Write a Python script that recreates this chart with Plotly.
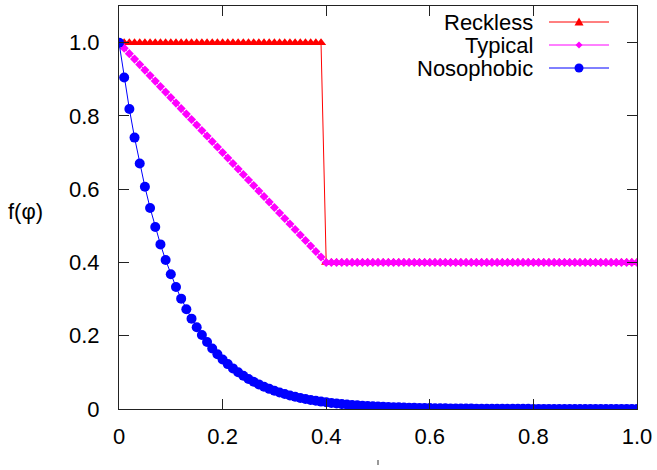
import plotly.graph_objects as go

phi = [
    0.00, 0.01, 0.02, 0.03, 0.04, 0.05, 0.06, 0.07, 0.08, 0.09,
    0.10, 0.11, 0.12, 0.13, 0.14, 0.15, 0.16, 0.17, 0.18, 0.19,
    0.20, 0.21, 0.22, 0.23, 0.24, 0.25, 0.26, 0.27, 0.28, 0.29,
    0.30, 0.31, 0.32, 0.33, 0.34, 0.35, 0.36, 0.37, 0.38, 0.39,
    0.40, 0.41, 0.42, 0.43, 0.44, 0.45, 0.46, 0.47, 0.48, 0.49,
    0.50, 0.51, 0.52, 0.53, 0.54, 0.55, 0.56, 0.57, 0.58, 0.59,
    0.60, 0.61, 0.62, 0.63, 0.64, 0.65, 0.66, 0.67, 0.68, 0.69,
    0.70, 0.71, 0.72, 0.73, 0.74, 0.75, 0.76, 0.77, 0.78, 0.79,
    0.80, 0.81, 0.82, 0.83, 0.84, 0.85, 0.86, 0.87, 0.88, 0.89,
    0.90, 0.91, 0.92, 0.93, 0.94, 0.95, 0.96, 0.97, 0.98, 0.99,
    1.00,
]

reckless = [
    1.0, 1.0, 1.0, 1.0, 1.0, 1.0, 1.0, 1.0, 1.0, 1.0,
    1.0, 1.0, 1.0, 1.0, 1.0, 1.0, 1.0, 1.0, 1.0, 1.0,
    1.0, 1.0, 1.0, 1.0, 1.0, 1.0, 1.0, 1.0, 1.0, 1.0,
    1.0, 1.0, 1.0, 1.0, 1.0, 1.0, 1.0, 1.0, 1.0, 1.0,
    0.4, 0.4, 0.4, 0.4, 0.4, 0.4, 0.4, 0.4, 0.4, 0.4,
    0.4, 0.4, 0.4, 0.4, 0.4, 0.4, 0.4, 0.4, 0.4, 0.4,
    0.4, 0.4, 0.4, 0.4, 0.4, 0.4, 0.4, 0.4, 0.4, 0.4,
    0.4, 0.4, 0.4, 0.4, 0.4, 0.4, 0.4, 0.4, 0.4, 0.4,
    0.4, 0.4, 0.4, 0.4, 0.4, 0.4, 0.4, 0.4, 0.4, 0.4,
    0.4, 0.4, 0.4, 0.4, 0.4, 0.4, 0.4, 0.4, 0.4, 0.4,
    0.4,
]

typical = [
    1.000, 0.985, 0.970, 0.955, 0.940, 0.925, 0.910, 0.895, 0.880, 0.865,
    0.850, 0.835, 0.820, 0.805, 0.790, 0.775, 0.760, 0.745, 0.730, 0.715,
    0.700, 0.685, 0.670, 0.655, 0.640, 0.625, 0.610, 0.595, 0.580, 0.565,
    0.550, 0.535, 0.520, 0.505, 0.490, 0.475, 0.460, 0.445, 0.430, 0.415,
    0.400, 0.400, 0.400, 0.400, 0.400, 0.400, 0.400, 0.400, 0.400, 0.400,
    0.400, 0.400, 0.400, 0.400, 0.400, 0.400, 0.400, 0.400, 0.400, 0.400,
    0.400, 0.400, 0.400, 0.400, 0.400, 0.400, 0.400, 0.400, 0.400, 0.400,
    0.400, 0.400, 0.400, 0.400, 0.400, 0.400, 0.400, 0.400, 0.400, 0.400,
    0.400, 0.400, 0.400, 0.400, 0.400, 0.400, 0.400, 0.400, 0.400, 0.400,
    0.400, 0.400, 0.400, 0.400, 0.400, 0.400, 0.400, 0.400, 0.400, 0.400,
    0.400,
]

nosophobic = [
    1.0000, 0.9048, 0.8187, 0.7408, 0.6703, 0.6065, 0.5488, 0.4966, 0.4493, 0.4066,
    0.3679, 0.3329, 0.3012, 0.2725, 0.2466, 0.2231, 0.2019, 0.1827, 0.1653, 0.1496,
    0.1353, 0.1225, 0.1108, 0.1003, 0.0907, 0.0821, 0.0743, 0.0672, 0.0608, 0.0550,
    0.0498, 0.0450, 0.0408, 0.0369, 0.0334, 0.0302, 0.0273, 0.0247, 0.0224, 0.0202,
    0.0183, 0.0166, 0.0150, 0.0136, 0.0123, 0.0111, 0.0101, 0.0091, 0.0082, 0.0074,
    0.0067, 0.0061, 0.0055, 0.0050, 0.0045, 0.0041, 0.0037, 0.0033, 0.0030, 0.0027,
    0.0025, 0.0022, 0.0020, 0.0018, 0.0017, 0.0015, 0.0014, 0.0012, 0.0011, 0.0010,
    0.0009, 0.0008, 0.0007, 0.0007, 0.0006, 0.0006, 0.0005, 0.0005, 0.0004, 0.0004,
    0.0003, 0.0003, 0.0003, 0.0003, 0.0002, 0.0002, 0.0002, 0.0002, 0.0002, 0.0001,
    0.0001, 0.0001, 0.0001, 0.0001, 0.0001, 0.0001, 0.0001, 0.0001, 0.0001, 0.0001,
    0.0000,
]

series_names = ["Reckless", "Typical", "Nosophobic"]
tick_vals = [0, 0.2, 0.4, 0.6, 0.8, 1.0]
tick_text = ["0", "0.2", "0.4", "0.6", "0.8", "1.0"]

FONT = "Liberation Sans, Arial, Helvetica, sans-serif"
FS = 22
RED, MAG, BLUE = "#ff0000", "#ff00ff", "#0000ff"

fig = go.Figure()
fig.add_trace(go.Scatter(x=phi, y=reckless, mode="lines+markers", name=series_names[0],
                         line=dict(color=RED, width=1),
                         marker=dict(symbol="triangle-up", size=9, color=RED)))
fig.add_trace(go.Scatter(x=phi, y=typical, mode="lines+markers", name=series_names[1],
                         line=dict(color=MAG, width=1),
                         marker=dict(symbol="diamond", size=7, color=MAG)))
fig.add_trace(go.Scatter(x=phi, y=nosophobic, mode="lines+markers", name=series_names[2],
                         line=dict(color=BLUE, width=1),
                         marker=dict(symbol="circle", size=10, color=BLUE)))

# plot area geometry (px)
L, R, T, B = 119, 637, 6, 409
W, H = R - L, B - T


def px(xp):
    return (xp - L) / W


def py(yp):
    return (B - yp) / H


shapes = []
annotations = []
legend_rows = [22, 45, 68]
colors = [RED, MAG, BLUE]
for name, yy, c in zip(series_names, legend_rows, colors):
    annotations.append(dict(x=px(535), y=py(yy), xref="paper", yref="paper",
                            text=name, showarrow=False, xanchor="right", yanchor="middle",
                            font=dict(family=FONT, size=FS, color="black")))
    shapes.append(dict(type="line", xref="paper", yref="paper",
                       x0=px(549), x1=px(609), y0=py(yy), y1=py(yy),
                       line=dict(color=c, width=1)))

cx = 579
yy = legend_rows[0]
shapes.append(dict(type="path", xref="paper", yref="paper",
                   path=f"M {px(cx-4.5)} {py(yy+3.5)} L {px(cx+4.5)} {py(yy+3.5)} L {px(cx)} {py(yy-4.5)} Z",
                   fillcolor=RED, line=dict(color=RED, width=0)))
yy = legend_rows[1]
shapes.append(dict(type="path", xref="paper", yref="paper",
                   path=f"M {px(cx-3.5)} {py(yy)} L {px(cx)} {py(yy-3.5)} L {px(cx+3.5)} {py(yy)} L {px(cx)} {py(yy+3.5)} Z",
                   fillcolor=MAG, line=dict(color=MAG, width=0)))
yy = legend_rows[2]
shapes.append(dict(type="circle", xref="paper", yref="paper",
                   x0=px(cx-4.5), x1=px(cx+4.5), y0=py(yy+4.5), y1=py(yy-4.5),
                   fillcolor=BLUE, line=dict(color=BLUE, width=0)))

# small truncated mark below the x axis
shapes.append(dict(type="line", xref="paper", yref="paper",
                   x0=px(378), x1=px(378), y0=py(460), y1=py(465),
                   line=dict(color="#777777", width=1.5)))

annotations.append(dict(x=px(25), y=py(212), xref="paper", yref="paper",
                        text="f(φ)", showarrow=False, xanchor="center", yanchor="middle",
                        font=dict(family=FONT, size=FS, color="black")))

axis_common = dict(showgrid=False, zeroline=False, showline=True, linecolor="#222222",
                   linewidth=1, mirror="ticks", ticks="inside", ticklen=10,
                   tickcolor="#222222", tickwidth=1,
                   tickfont=dict(family=FONT, size=FS, color="black"),
                   tickvals=tick_vals, ticktext=tick_text)

fig.update_layout(
    width=657, height=470,
    margin=dict(l=L, r=657 - R, t=T, b=470 - B),
    paper_bgcolor="white", plot_bgcolor="white",
    showlegend=False,
    xaxis=dict(range=[0, 1.0], ticklabelstandoff=8, **axis_common),
    yaxis=dict(range=[0, 1.1], ticklabelstandoff=14, **axis_common),
    shapes=shapes,
    annotations=annotations,
)

fig.write_html("out.html", config={"displayModeBar": False},
               post_script="document.body.style.margin='0px';document.body.style.overflow='hidden';")
